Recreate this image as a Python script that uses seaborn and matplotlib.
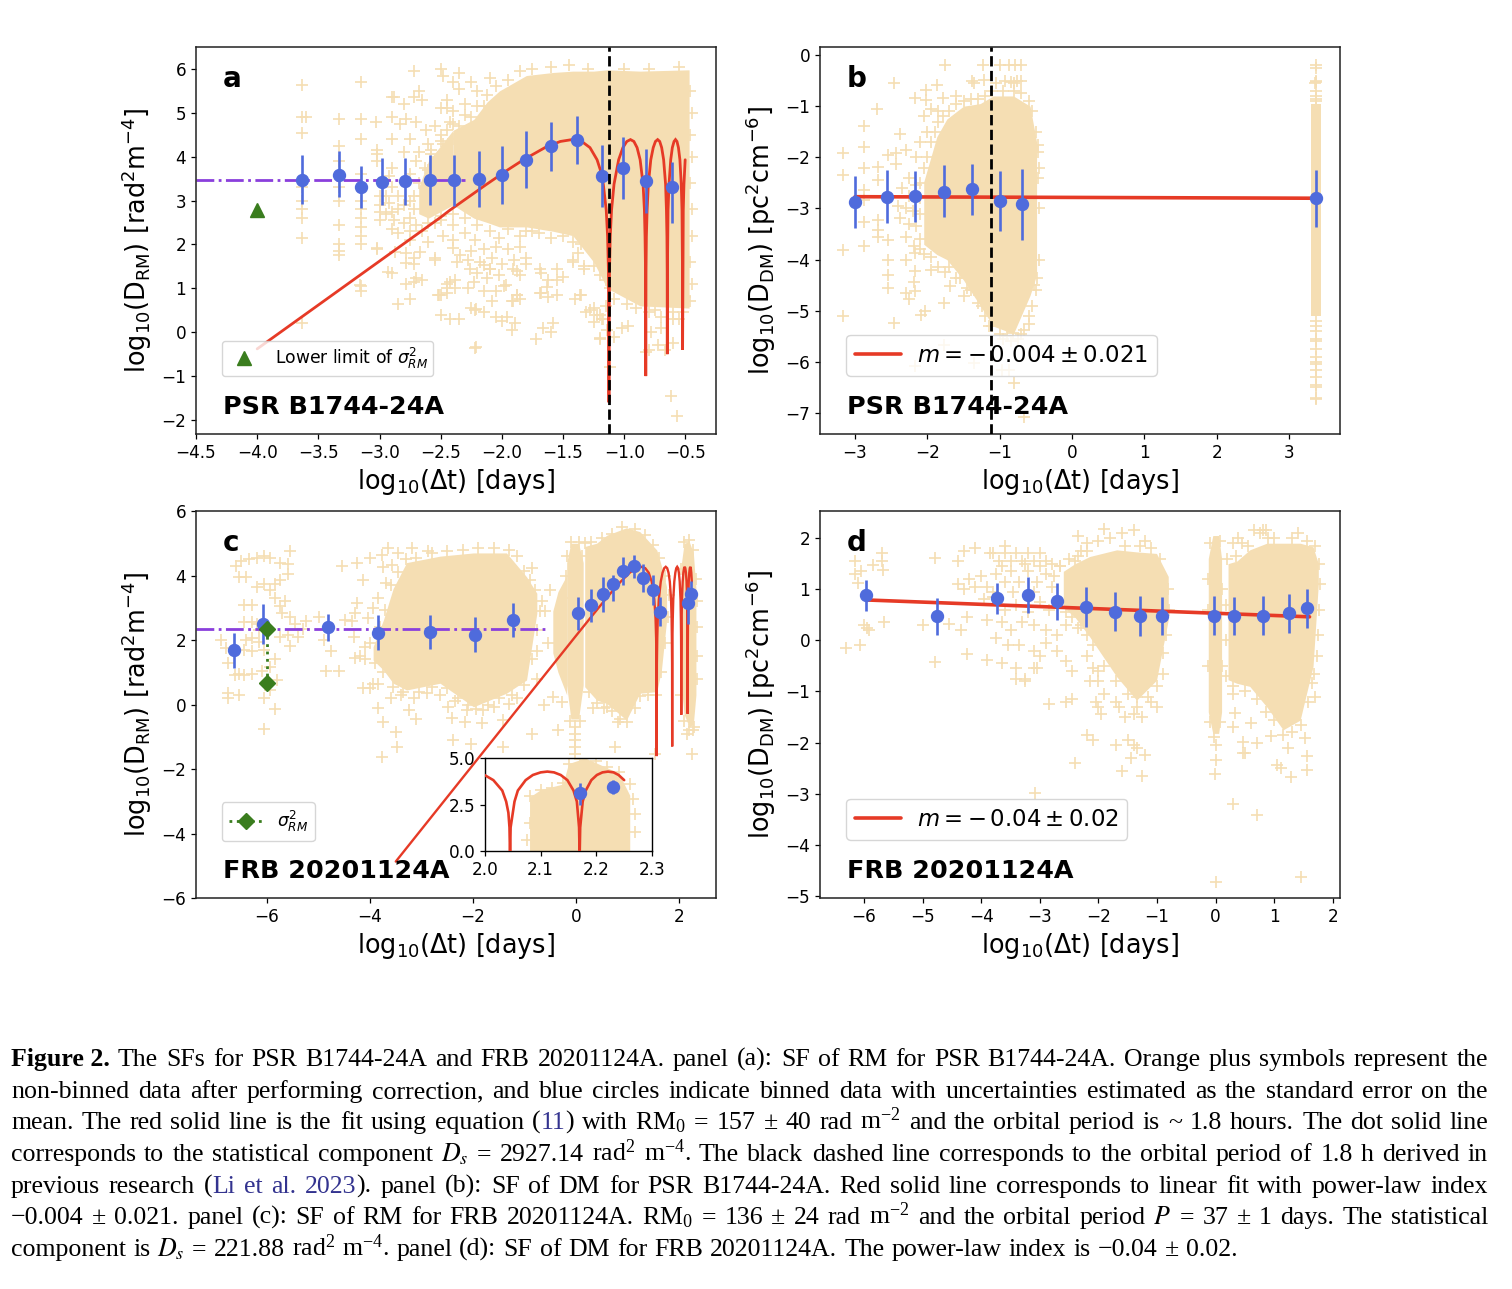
"""
Structure functions of RM and DM for PSR B1744-24A and FRB 20201124A,
with the paper caption underneath. Values are read off the published figure.
"""

import matplotlib
matplotlib.use('Agg')
import matplotlib.pyplot as plt
import numpy as np
import pandas as pd
import seaborn as sns

# panel a: binned points (x, y, upper end, lower end of the bar)
bin_a_x = [-3.63, -3.33, -3.15, -2.98, -2.79, -2.59, -2.39, -2.19, -2.0, -1.8, -1.6, -1.39, -1.18, -1.01, -0.82, -0.61]
bin_a_y = [3.47, 3.59, 3.30, 3.43, 3.45, 3.47, 3.46, 3.50, 3.59, 3.93, 4.25, 4.39, 3.57, 3.74, 3.45, 3.30]
bin_a_hi = [4.03, 4.12, 3.79, 3.96, 3.98, 4.04, 4.03, 4.14, 4.25, 4.58, 4.80, 4.93, 4.27, 4.44, 4.17, 3.89]
bin_a_lo = [2.92, 3.07, 2.82, 2.90, 2.91, 2.91, 2.88, 2.86, 2.93, 3.29, 3.68, 3.84, 2.86, 3.03, 2.72, 2.48]

fit_a_x = [-4.0, -3.5, -3.0, -2.5, -2.426, -2.125, -1.949, -1.824, -1.648, -1.523, -1.426, -1.347, -1.28, -1.222, -1.196, -1.171, -1.147, -1.136, -1.129, -1.125,
           -1.1207, -1.1143, -1.1038, -1.0836, -1.0458, -1.011, -0.979, -0.949, -0.921, -0.895, -0.87, -0.846, -0.835, -0.83, -0.826, -0.824,
           -0.822, -0.819, -0.813, -0.803, -0.783, -0.763, -0.745, -0.727, -0.71, -0.694, -0.678, -0.662, -0.655, -0.651, -0.649, -0.648,
           -0.647, -0.642, -0.634, -0.62, -0.607, -0.593, -0.581, -0.569, -0.557, -0.545, -0.534, -0.528, -0.524, -0.523,
           -0.5175, -0.512, -0.502]
fit_a_y = [-0.38, 0.62, 1.62, 2.62, 2.779, 3.371, 3.705, 3.93, 4.207, 4.347, 4.39, 4.347, 4.207, 3.93, 3.705, 3.371, 2.779, 2.18, 1.385, -1.6,
           1.385, 2.18, 2.779, 3.371, 3.93, 4.207, 4.347, 4.39, 4.347, 4.207, 3.93, 3.371, 2.779, 2.18, 1.385, -1.0,
           1.385, 2.18, 2.779, 3.371, 3.93, 4.207, 4.347, 4.39, 4.347, 4.207, 3.93, 3.371, 2.779, 2.18, 1.385, -0.5,
           1.385, 2.779, 3.371, 3.93, 4.207, 4.347, 4.39, 4.347, 4.207, 3.93, 3.371, 2.779, 1.385, -0.4,
           2.779, 3.371, 3.93]

# solid parts of the cloud in panel a
dense_a_x = [-2.4, -2.23, -2.12, -2.02, -1.8, -1.58, -1.42, -1.25, -1.14, -0.87, -0.47]
dense_a_hi = [4.6, 4.85, 5.25, 5.5, 5.85, 5.92, 5.95, 5.95, 5.98, 5.95, 5.98]
dense_a_lo = [2.9, 2.6, 2.5, 2.4, 2.4, 2.3, 2.2, 1.6, 1.0, 0.6, 0.55]
dense_a2_x = [-2.68, -2.6, -2.4]
dense_a2_hi = [3.3, 3.9, 4.6]
dense_a2_lo = [2.7, 2.6, 2.9]

cloud_a = [
    (-3.63, 5.63), (-3.63, 4.9), (-3.6, 4.9), (-3.63, 4.55), (-3.63, 3.3), (-3.63, 3.0), (-3.63, 2.8), (-3.63, 2.6), (-3.63, 2.15), (-3.63, 0.2),
    (-3.33, 4.85), (-3.33, 4.25), (-3.33, 3.9), (-3.33, 3.3), (-3.33, 3.0), (-3.33, 2.45), (-3.33, 2.0), (-3.33, 1.85), (-3.33, 1.75),
    (-3.15, 5.7), (-3.15, 4.85), (-3.15, 4.4), (-3.15, 3.6), (-3.15, 3.0), (-3.15, 2.8), (-3.15, 2.6), (-3.15, 2.4), (-3.15, 2.2), (-3.15, 2.0), (-3.15, 1.05), (-3.15, 0.95),
    (-3.03, 4.8), (-3.02, 4.15), (-3.02, 4.05), (-3.02, 3.9), (-3.0, 3.1), (-3.0, 2.9), (-3.0, 2.75), (-3.0, 2.55), (-3.02, 1.9),
    (-2.9, 5.35), (-2.88, 5.35), (-2.9, 4.9), (-2.83, 4.75), (-2.9, 3.75), (-2.92, 3.55), (-2.9, 3.3), (-2.92, 2.95), (-2.9, 2.75), (-2.88, 2.55), (-2.9, 2.35), (-2.9, 1.35),
    (-2.72, 5.95), (-2.8, 5.2), (-2.72, 5.35), (-2.68, 5.5), (-2.65, 5.3), (-2.78, 4.85), (-2.7, 4.8), (-2.75, 4.4), (-2.6, 4.3), (-2.58, 4.05),
    (-2.7, 3.9), (-2.6, 3.7), (-2.75, 3.6), (-2.55, 3.2), (-2.65, 3.1), (-2.8, 2.9), (-2.6, 2.9), (-2.75, 2.6), (-2.55, 2.5), (-2.65, 2.3),
    (-2.75, 2.1), (-2.6, 2.05), (-2.78, 1.8), (-2.72, 1.7), (-2.72, 1.55), (-2.55, 1.65), (-2.65, 1.2), (-2.78, 1.1), (-2.5, 0.85), (-2.45, 1.1), (-2.45, 0.9),
    (-2.52, 0.85), (-2.85, 0.65), (-2.75, 0.75), (-2.5, 6.0), (-2.48, 5.85), (-2.35, 5.9), (-2.4, 5.7), (-2.35, 5.55), (-2.45, 5.3), (-2.25, 5.7), (-2.1, 5.8),
    (-2.3, 5.2), (-2.2, 5.5), (-2.5, 5.1), (-2.45, 5.1), (-2.4, 5.05), (-2.42, 4.8), (-2.35, 4.7), (-2.25, 4.9), (-2.15, 5.15), (-2.5, 4.5), (-2.4, 4.4), (-2.3, 4.55),
    (-2.52, 4.0), (-2.48, 4.3), (-2.5, 3.7), (-2.48, 2.2), (-2.4, 2.1), (-2.3, 2.25), (-2.22, 2.1), (-2.5, 2.55), (-2.4, 2.45),
    (-2.1, 2.3), (-2.02, 2.15), (-1.95, 2.35), (-1.85, 2.2), (-1.75, 2.3), (-1.5, 2.2), (-1.42, 2.05), (-1.35, 2.0),
    (-2.25, 1.85), (-2.15, 1.9), (-2.05, 1.95), (-1.95, 1.9), (-1.85, 1.95), (-2.28, 1.65), (-2.18, 1.6), (-2.08, 1.7), (-2.0, 1.55), (-1.9, 1.65), (-1.8, 1.55), (-2.2, 1.35), (-2.1, 1.45),
    (-2.02, 1.3), (-1.88, 1.4), (-1.85, 1.3), (-1.68, 1.35), (-1.62, 1.2), (-1.55, 1.2), (-1.5, 1.25), (-1.42, 1.65), (-1.38, 1.8), (-1.33, 1.5), (-1.3, 2.0),
    (-2.38, 1.2), (-2.38, 1.0), (-2.28, 1.0), (-2.15, 0.95), (-2.05, 0.95), (-1.98, 1.05), (-1.92, 0.7), (-1.88, 0.85), (-1.85, 0.75), (-1.68, 0.9), (-1.62, 0.8), (-1.55, 0.85),
    (-2.5, 0.4), (-2.35, 0.3), (-2.25, 0.55), (-2.22, 0.5), (-2.05, 0.35), (-2.0, 0.25), (-1.92, 0.05), (-1.72, -0.15), (-1.6, 0.0), (-2.22, -0.35),
    (-1.4, 0.75), (-1.35, 0.85), (-1.28, 0.5), (-1.25, 0.55), (-1.2, 0.4), (-1.18, 0.3), (-1.15, 0.6), (-1.2, -0.15), (-1.08, -0.1), (-1.02, 0.1), (-0.97, 0.15), (-0.9, 0.55),
    (-0.98, 0.65), (-0.86, 0.8), (-0.75, 0.5), (-0.72, -0.3), (-0.67, -0.4), (-0.6, 0.3), (-0.55, 0.3), (-0.52, 0.45), (-0.5, 0.8), (-0.8, -0.4), (-0.6, -0.25), (-0.62, -1.45), (-0.57, -1.9),
    (-1.12, -0.8), (-1.14, 0.05), (-0.82, -0.45), (-0.78, 0.0), (-0.7, 0.1),
    (-2.40, 1.91), (-2.34, 1.76), (-2.37, 1.61), (-2.26, 1.45), (-2.15, 1.53), (-2.10, 1.45), (-2.12, 1.23), (-2.23, 1.15), (-2.42, 1.15), (-2.45, 1.0), (-2.51, 0.85),
    (-1.88, 0.85), (-1.91, 0.70), (-1.69, 0.89), (-1.63, 1.04), (-1.97, 1.07), (-1.91, 1.45), (-1.80, 1.68), (-1.69, 1.45), (-1.55, 1.45), (-1.42, 1.61), (-1.33, 1.45),
    (-1.36, 0.85), (-1.31, 0.47), (-1.22, 0.39), (-1.17, 0.31), (-1.25, 0.24), (-1.20, -0.14), (-1.58, 0.2), (-1.66, 0.09), (-1.96, 0.35), (-1.89, 0.2), (-2.21, 0.54), (-2.15, 0.47), (-2.08, 0.7),
    (-2.42, 0.31), (-2.21, -0.33), (-2.70, 1.23), (-2.72, 1.15), (-3.16, 1.07), (-2.93, 1.38), (-2.78, 1.57), (-2.67, 1.83), (-2.55, 1.68), (-3.02, 1.91), (-2.87, 1.83),
    (-2.95, 3.1), (-2.85, 3.1), (-2.75, 3.0), (-2.95, 2.7), (-2.85, 2.8), (-2.72, 2.8), (-2.8, 2.5), (-2.7, 2.45), (-2.85, 2.25), (-2.75, 2.3), (-2.68, 4.1), (-2.62, 4.6), (-2.55, 4.7), (-2.8, 4.1), (-2.9, 4.4),
    # rim of the solid part
    (-2.4, 4.75), (-2.3, 4.95), (-2.2, 5.15), (-2.12, 5.4), (-2.05, 5.6), (-1.95, 5.75), (-1.85, 5.95), (-1.75, 6.0), (-1.6, 6.05), (-1.45, 6.1), (-1.3, 6.0), (-1.0, 6.0), (-0.8, 6.0), (-0.55, 6.05),
    (-0.46, 5.5), (-0.45, 5.0), (-0.46, 4.5), (-0.45, 4.0), (-0.46, 3.4), (-0.45, 2.8), (-0.45, 2.2), (-0.46, 1.6), (-0.45, 1.1), (-0.46, 0.7),
    (-0.6, 0.45), (-0.7, 0.35), (-0.8, 0.45), (-1.08, 0.75), (-1.12, 1.0), (-1.15, 1.2), (-1.2, 1.3), (-1.25, 1.5), (-1.6, 2.15), (-1.7, 2.25), (-1.8, 2.3), (-2.2, 2.45), (-2.3, 2.6), (-2.4, 2.7), (-2.5, 2.65), (-2.6, 2.5),
    (-2.72, 3.1), (-2.68, 3.4), (-2.63, 3.75), (-2.58, 4.15), (-2.5, 4.35), (-2.45, 4.6),
]

rm_a_x = [-4.5, -2.3]
rm_a_y = [3.47, 3.47]
limit_a_x = [-4.0]
limit_a_y = [2.78]
period_a = -1.125

# panel b
bin_b_x = [-3.0, -2.56, -2.17, -1.77, -1.38, -0.99, -0.69, 3.37]
bin_b_y = [-2.88, -2.77, -2.76, -2.67, -2.62, -2.86, -2.92, -2.80]
bin_b_hi = [-2.37, -2.25, -2.26, -2.16, -2.13, -2.27, -2.23, -2.24]
bin_b_lo = [-3.39, -3.29, -3.27, -3.16, -3.12, -3.45, -3.62, -3.36]
fit_b_x = [-3.0, 3.37]
fit_b_y = [-2.77, -2.80]

dense_b_x = [-2.05, -1.87, -1.73, -1.5, -1.27, -1.09, -0.81, -0.58, -0.49]
dense_b_hi = [-2.48, -1.6, -1.25, -1.0, -0.95, -0.8, -0.8, -1.0, -1.7]
dense_b_lo = [-3.7, -3.9, -4.0, -4.4, -4.9, -5.3, -5.45, -4.7, -4.3]
column_b_x = [3.3, 3.44]
column_b_hi = [-0.95, -0.95]
column_b_lo = [-5.1, -5.1]

cloud_b = [
    (-2.87, -1.38), (-2.87, -1.79), (-2.87, -2.21), (-3.16, -1.92), (-3.16, -2.34), (-3.16, -3.81), (-3.16, -5.11), (-2.87, -2.63), (-2.87, -2.83), (-2.87, -3.27), (-2.87, -3.74),
    (-2.69, -1.06), (-2.46, -0.55), (-2.38, -1.54), (-2.68, -2.18), (-2.68, -2.44), (-2.68, -3.22), (-2.68, -3.42), (-2.68, -3.55), (-2.55, -1.95), (-2.55, -3.61), (-2.55, -4.0), (-2.55, -4.3), (-2.55, -4.56),
    (-2.46, -5.24), (-2.44, -1.92), (-2.3, -1.85), (-2.3, -4.0), (-2.3, -4.65), (-2.26, -4.78), (-2.44, -2.14), (-2.38, -3.19), (-2.3, -3.55), (-2.19, -3.74), (-2.17, -3.87), (-2.17, -4.23), (-2.19, -4.43), (-2.17, -4.62),
    (-2.09, -5.08), (-2.03, -5.01), (-2.17, -0.84), (-2.02, -0.68), (-1.87, -0.58), (-1.75, -0.19), (-2.02, -0.87), (-1.79, -0.84), (-1.6, -0.81), (-1.38, -0.51), (-1.23, -0.19), (-1.21, -0.48), (-1.0, -0.19), (-0.87, -0.19),
    (-0.79, -0.19), (-0.71, -0.19), (-0.93, -0.5), (-0.85, -0.52), (-0.8, -0.55), (-0.76, -0.5), (-0.71, -0.5), (-1.35, -0.55), (-1.05, -0.55),
    (-1.77, -4.85), (-1.49, -4.72), (-1.68, -4.52), (-1.77, -5.67), (-1.36, -6.02), (-2.17, -6.09), (-0.8, -6.41), (-0.66, -7.07), (-0.66, -5.37), (-0.87, -6.15), (-0.97, -6.15), (-1.15, -5.3), (-0.87, -5.24), (-0.82, -5.44),
    (-2.05, -1.2), (-1.95, -1.05), (-1.85, -1.1), (-2.0, -1.5), (-2.1, -1.7), (-2.15, -2.0), (-2.25, -2.4), (-2.15, -2.55), (-2.35, -2.6), (-2.25, -2.75), (-2.1, -2.8), (-2.4, -2.95), (-2.3, -3.0), (-2.2, -3.05), (-2.1, -3.1),
    (-2.25, -3.3), (-2.15, -3.35), (-2.1, -3.6), (-1.95, -4.2), (-1.85, -4.15), (-1.75, -4.25), (-1.6, -4.35), (-1.45, -4.55), (-1.35, -4.6), (-1.25, -4.9),
    (-0.95, -5.55), (-0.85, -5.6), (-0.75, -5.55), (-0.6, -5.1), (-0.55, -4.9), (-0.52, -4.5), (-0.48, -4.35), (-0.46, -4.0), (-0.46, -3.0),
    (-0.47, -2.4), (-0.46, -2.2), (-0.47, -1.9), (-0.47, -1.75),
    (3.37, -0.2), (3.37, -0.25), (3.37, -0.5), (3.37, -0.52), (3.36, -0.55), (3.38, -0.7), (3.37, -0.8), (3.37, -0.85), (3.37, -0.9),
    (3.37, -5.2), (3.37, -5.3), (3.37, -5.4), (3.37, -5.55), (3.37, -5.6), (3.37, -5.75), (3.37, -5.9), (3.37, -6.0), (3.37, -6.05), (3.37, -6.15), (3.37, -6.3), (3.37, -6.45), (3.37, -6.5), (3.37, -6.7), (3.37, -6.72),
    # rim of the solid part
    (-2.1, -2.5), (-2.05, -2.2), (-2.0, -2.0), (-1.95, -1.7), (-1.9, -1.5), (-1.85, -1.3), (-1.78, -1.2), (-1.7, -1.1), (-1.6, -0.95), (-1.5, -0.9), (-1.4, -0.85), (-1.3, -0.85), (-1.2, -0.8), (-1.1, -0.7), (-0.95, -0.7),
    (-0.8, -0.7), (-0.7, -0.75), (-0.6, -0.9), (-0.55, -1.1), (-0.5, -1.5), (-2.1, -3.8), (-2.05, -3.9), (-1.95, -3.95), (-1.7, -4.15), (-1.55, -4.35), (-1.4, -4.6), (-1.3, -4.85), (-1.2, -5.1), (-1.1, -5.3), (-1.0, -5.45),
    (-0.9, -5.5), (-0.7, -5.45), (-0.6, -5.25), (-0.5, -4.6),
]
period_b = -1.125

# panel c
bin_c_x = [-6.64, -6.08, -4.82, -3.84, -2.83, -1.96, -1.23, 0.04, 0.30, 0.52, 0.71, 0.92, 1.12, 1.31, 1.50, 1.64, 2.17, 2.23]
bin_c_y = [1.68, 2.50, 2.39, 2.22, 2.26, 2.17, 2.61, 2.83, 3.09, 3.42, 3.73, 4.14, 4.29, 3.93, 3.54, 2.88, 3.14, 3.44]
bin_c_hi = [2.21, 3.11, 2.82, 2.76, 2.79, 2.70, 3.14, 3.33, 3.58, 3.94, 4.02, 4.57, 4.65, 4.35, 4.02, 3.32, 3.63, 3.83]
bin_c_lo = [1.14, 1.88, 1.98, 1.69, 1.73, 1.64, 2.10, 2.31, 2.57, 2.88, 3.21, 3.69, 3.91, 3.50, 3.07, 2.44, 2.50, 3.05]

fit_c_x = [-3.5, -3.0, -2.0, -1.0, 0.0, 0.267, 0.568, 0.744, 0.869, 1.045, 1.17, 1.267, 1.346, 1.413, 1.471, 1.497, 1.522, 1.546, 1.557, 1.564, 1.568,
           1.572, 1.579, 1.589, 1.609, 1.647, 1.682, 1.714, 1.744, 1.772, 1.798, 1.823, 1.847, 1.858, 1.863, 1.867, 1.869,
           1.871, 1.874, 1.88, 1.89, 1.91, 1.93, 1.948, 1.966, 1.983, 1.999, 2.015, 2.031, 2.038, 2.042, 2.044, 2.045,
           2.046, 2.053, 2.059, 2.073, 2.086, 2.1, 2.112, 2.124, 2.136, 2.148, 2.159, 2.165, 2.169, 2.17,
           2.171, 2.1755, 2.181, 2.191, 2.201, 2.211, 2.221, 2.231, 2.24, 2.25]
fit_c_y = [-4.87, -3.87, -1.87, 0.13, 2.13, 2.659, 3.251, 3.585, 3.81, 4.087, 4.227, 4.27, 4.227, 4.087, 3.81, 3.585, 3.251, 2.659, 2.06, 1.265, -1.6,
           1.265, 2.06, 2.659, 3.251, 3.81, 4.087, 4.227, 4.27, 4.227, 4.087, 3.81, 3.251, 2.659, 2.06, 1.265, -1.3,
           1.265, 2.06, 2.659, 3.251, 3.81, 4.087, 4.227, 4.27, 4.227, 4.087, 3.81, 3.251, 2.659, 2.06, 1.265, -0.32,
           1.265, 2.659, 3.251, 3.81, 4.087, 4.227, 4.27, 4.227, 4.087, 3.81, 3.251, 2.659, 1.265, -0.29,
           1.265, 2.659, 3.251, 3.81, 4.087, 4.227, 4.27, 4.227, 4.087, 3.81]

dense_c1_x = [-3.94, -3.74, -3.55, -3.29, -2.64, -1.99, -1.35, -0.96, -0.76]
dense_c1_hi = [1.79, 2.62, 3.6, 4.4, 4.6, 4.7, 4.7, 3.96, 3.45]
dense_c1_lo = [1.38, 1.07, 0.66, 0.45, 0.66, -0.07, 0.35, 0.76, 2.83]
dense_c2_x = [-0.18, -0.1, 0.05, 0.14]
dense_c2_hi = [4.4, 5.0, 5.0, 4.4]
dense_c2_lo = [0.6, -0.45, -0.45, 0.6]
dense_c3_x = [0.17, 0.4, 0.6, 0.98, 1.24, 1.57, 1.66, 1.76]
dense_c3_hi = [4.9, 5.0, 5.25, 5.48, 5.36, 4.79, 4.3, 3.65]
dense_c3_lo = [0.55, 0.14, 0.03, -0.48, 0.35, 0.4, 1.07, 2.6]
dense_c4_x = [2.05, 2.1, 2.2, 2.28, 2.33]
dense_c4_hi = [4.4, 5.0, 5.05, 4.7, 3.6]
dense_c4_lo = [0.5, -0.3, -0.7, -0.6, 0.3]
dense_c5_x = [-0.45, -0.35, -0.18]
dense_c5_hi = [2.9, 3.5, 4.0]
dense_c5_lo = [1.6, 1.0, 0.3]

cloud_c = [
    (-6.9, 2.0), (-6.8, 1.75), (-6.75, 1.3), (-6.62, 0.9), (-6.55, 0.95), (-6.75, 0.35), (-6.75, 0.2), (-6.55, 0.3), (-6.45, 0.9), (-6.3, 0.95),
    (-6.6, 4.3), (-6.5, 4.45), (-6.35, 4.5), (-6.2, 4.55), (-6.05, 4.6), (-5.95, 4.55), (-5.75, 4.4), (-5.6, 4.35), (-5.55, 4.75), (-5.6, 4.05), (-5.75, 3.85), (-5.85, 3.75),
    (-6.55, 3.95), (-6.4, 3.95), (-6.2, 3.65), (-6.05, 3.75), (-5.95, 3.55), (-6.45, 3.1), (-6.3, 3.1), (-6.2, 2.5), (-6.45, 2.55), (-6.3, 2.55), (-6.15, 2.3), (-6.4, 2.0), (-6.3, 2.05), (-6.15, 1.95), (-6.3, 1.65),
    (-6.45, 1.7), (-6.05, 1.7), (-5.85, 1.4), (-5.95, 1.15), (-6.1, 1.05), (-5.85, 3.3), (-5.75, 3.05), (-5.65, 3.2), (-5.7, 2.85), (-5.55, 2.7), (-5.45, 2.5), (-5.3, 2.35), (-5.25, 2.6), (-5.4, 2.1), (-5.55, 1.8), (-5.75, 2.1), (-5.6, 2.15),
    (-5.8, 0.75), (-5.95, 0.45), (-6.05, 0.2), (-6.05, -0.75), (-5.85, -0.15), (-5.0, 2.7), (-4.9, 2.0), (-4.75, 1.65), (-4.85, 1.05), (-4.6, 1.05), (-4.55, 4.3), (-4.35, 2.6), (-4.2, 1.5), (-4.1, 1.4), (-4.0, 0.5), (-3.85, 0.65),
    (-4.26, 4.38), (-4.0, 4.53), (-3.77, 4.63), (-3.65, 4.84), (-3.45, 4.69), (-3.19, 4.84), (-2.87, 4.75), (-4.13, 3.86), (-3.68, 3.76), (-3.74, 4.27), (-3.58, 4.32), (-4.26, 3.14), (-4.29, 2.83), (-4.49, 2.62), (-4.03, 2.67),
    (-3.71, 2.93), (-4.32, 2.1), (-4.1, 1.79), (-4.29, 1.43), (-0.86, 4.22), (-3.95, 3.0), (-3.85, 3.3), (-3.8, 2.4), (-4.13, 0.5), (-3.94, 0.65), (-3.84, -0.12), (-3.75, -0.53), (-3.25, -0.17), (-3.11, -0.46), (-3.5, -0.84), (-3.47, -1.31), (-3.77, -1.62),
    (-2.48, -0.07), (-2.41, -0.43), (-2.16, -0.53), (-2.12, -0.17), (-1.83, -0.58), (-1.8, -0.17), (-1.6, -0.07), (-1.3, 0.03), (-1.41, -0.48), (-2.38, -1.1), (-2.03, -1.21), (-1.41, -1.31), (-0.86, -0.9), (-0.34, -0.79), (-0.63, -0.02),
    (-0.44, 0.24), (-0.28, 0.09), (0.76, -1.31), (0.82, -0.53), (0.6, -0.07), (0.34, -0.12), (1.53, -1.52), (2.25, -1.52), (2.15, -0.9), (2.28, -0.79), (-0.02, -0.69), (-0.02, -0.9), (-0.02, -1.1), (-0.02, -1.31), (-0.02, -1.52),
    (-3.6, 0.2), (-3.4, 0.3), (-3.15, 0.2), (-2.9, 0.35), (-2.65, 0.3), (-2.35, 0.1), (-1.15, 0.2), (-0.75, 0.8), (-0.55, 1.9), (-0.6, 2.9), (-0.5, 3.55), (-0.65, 3.2), (-0.75, 1.65),
    # rim of the solid parts
    (-3.6, 3.7), (-3.45, 4.1), (-3.3, 4.5), (-3.1, 4.55), (-2.8, 4.7), (-2.5, 4.75), (-2.2, 4.8), (-1.9, 4.85), (-1.6, 4.85), (-1.3, 4.8), (-1.15, 4.6), (-1.0, 4.15), (-0.9, 3.85), (-0.8, 3.55),
    (-4.0, 1.9), (-3.9, 1.3), (-3.75, 1.0), (-3.55, 0.55), (-3.35, 0.4), (-3.05, 0.4), (-2.8, 0.55), (-2.5, 0.5), (-2.3, 0.2), (-2.1, 0.0), (-1.95, -0.15), (-1.7, 0.0), (-1.5, 0.2), (-1.25, 0.3), (-1.0, 0.6), (-0.85, 1.4), (-0.75, 2.3), (-0.7, 2.9),
    (0.25, 0.4), (0.4, 0.05), (0.55, -0.1), (0.7, -0.2), (0.85, -0.45), (1.0, -0.55), (1.15, -0.1), (1.25, 0.25), (1.4, 0.3), (1.55, 0.3), (1.65, 1.0), (1.72, 1.9), (1.78, 2.7), (1.8, 3.4), (1.72, 4.0), (1.62, 4.55), (1.5, 4.95),
    (1.35, 5.25), (1.15, 5.45), (0.9, 5.5), (0.7, 5.3), (0.5, 5.15), (0.3, 5.05), (0.18, 5.0),
    (-0.18, 4.6), (-0.1, 5.05), (0.05, 5.05), (0.12, 4.6), (-0.2, 4.0), (-0.2, 3.3), (-0.12, -0.5), (0.08, -0.5),
    (2.04, 4.2), (2.1, 5.05), (2.2, 5.1), (2.28, 4.8), (2.33, 3.9), (2.36, 3.2), (2.36, 2.4), (2.36, 1.5), (2.35, 0.8), (2.3, -0.7), (2.2, -0.8), (2.1, -0.5), (2.04, 0.3),
]
rm_c_x = [-7.38, -0.55]
rm_c_y = [2.33, 2.33]
var_c_x = [-6.0, -6.0]
var_c_y = [2.33, 0.67]

# inset of panel c
inset_x = [2.08, 2.1, 2.14, 2.15, 2.18, 2.21, 2.24, 2.26]
inset_hi = [2.9, 3.3, 3.6, 4.7, 5.0, 4.6, 4.2, 3.0]
inset_lo = [0.0, 0.0, 0.0, 0.0, 0.0, 0.0, 0.0, 0.0]
cloud_inset = [(2.08, 2.95), (2.1, 3.3), (2.12, 3.4), (2.14, 3.65), (2.15, 4.7), (2.17, 4.95), (2.2, 4.85), (2.22, 4.5), (2.24, 4.25), (2.26, 3.6),
               (2.265, 2.8), (2.27, 2.0), (2.27, 1.0), (2.08, 1.5), (2.075, 0.6)]

# panel d
bin_d_x = [-5.96, -4.75, -3.73, -3.21, -2.70, -2.22, -1.72, -1.30, -0.92, -0.03, 0.31, 0.80, 1.25, 1.56]
bin_d_y = [0.88, 0.47, 0.83, 0.88, 0.76, 0.66, 0.56, 0.47, 0.47, 0.47, 0.47, 0.47, 0.53, 0.63]
bin_d_hi = [1.18, 0.83, 1.13, 1.23, 1.12, 1.05, 0.95, 0.86, 0.85, 0.86, 0.85, 0.86, 0.90, 1.0]
bin_d_lo = [0.58, 0.11, 0.51, 0.54, 0.40, 0.26, 0.19, 0.09, 0.10, 0.10, 0.10, 0.10, 0.14, 0.25]
fit_d_x = [-5.96, 1.6]
fit_d_y = [0.79, 0.46]

dense_d1_x = [-2.6, -2.4, -2.15, -1.69, -1.35, -1.01, -0.81]
dense_d1_hi = [1.35, 1.5, 1.64, 1.77, 1.73, 1.7, 1.25]
dense_d1_lo = [0.65, 0.45, 0.07, -0.71, -1.17, -0.78, 0.4]
dense_d2_x = [-0.127, -0.05, 0.05, 0.1]
dense_d2_hi = [1.6, 2.05, 2.05, 1.6]
dense_d2_lo = [-1.4, -1.82, -1.82, -1.4]
dense_d3_x = [0.21, 0.36, 0.58, 0.87, 1.15, 1.44, 1.66, 1.75]
dense_d3_hi = [1.5, 1.55, 1.77, 1.9, 1.9, 1.9, 1.83, 1.5]
dense_d3_lo = [-0.77, -0.84, -0.9, -1.3, -1.75, -1.56, -0.51, 1.1]

cloud_d = [
    (-6.3, -0.15), (-6.06, -0.1), (-6.15, 1.55), (-6.15, 1.3), (-6.05, 1.35), (-6.1, 1.13), (-5.85, 1.48), (-5.7, 1.7), (-5.7, 1.55), (-5.68, 1.38), (-6.0, 0.3), (-5.95, 0.25), (-5.92, 0.2), (-5.65, 0.35),
    (-5.0, 0.3), (-4.78, 1.62), (-4.78, -0.42), (-4.55, 0.32), (-4.4, 1.55), (-4.3, 1.75), (-4.35, 0.2), (-4.25, -0.27), (-4.25, 0.45), (-4.1, 1.8), (-3.9, -0.38), (-3.9, 0.4),
    (-3.65, -0.45), (-4.4, 1.1), (-4.3, 1.0), (-4.2, 1.2), (-4.1, 1.05), (-4.0, 1.25), (-3.9, 1.05), (-3.85, 1.7), (-3.6, 1.85), (-2.8, 1.5), (-2.65, 1.45), (-2.5, 1.6), (-2.4, 1.55),
    (-2.3, 1.75), (-2.2, 1.9), (-2.35, 2.05), (-2.0, 1.95), (-1.8, 2.0), (-1.6, 2.1), (-1.4, 2.15), (-1.2, 1.95), (-1.9, 2.18),
    (-3.8, 1.7), (-3.7, 1.55), (-3.6, 1.7), (-3.5, 1.55), (-3.4, 1.7), (-3.3, 1.55), (-3.2, 1.7), (-3.1, 1.55), (-3.0, 1.7), (-2.9, 1.55), (-3.75, 1.3), (-3.6, 1.15), (-3.5, 1.35), (-3.35, 1.15), (-3.2, 1.35), (-3.05, 1.15), (-2.9, 1.3),
    (-3.8, 0.95), (-3.45, 0.95), (-3.1, 0.95), (-2.8, 1.05), (-3.65, 1.45), (-3.25, 1.5), (-3.0, 1.45), (-2.75, 1.25),
    (-3.95, 0.8), (-3.8, 0.85), (-3.6, 0.6), (-3.4, 0.7), (-3.2, 0.55), (-3.0, 0.75), (-2.85, 0.6), (-3.65, 0.35), (-3.5, 0.2), (-3.3, 0.35), (-3.1, 0.3), (-2.9, 0.2), (-3.75, 0.05), (-3.55, -0.1), (-3.35, -0.1), (-3.1, -0.2),
    (-2.9, -0.05), (-2.7, 0.1), (-2.55, 0.3), (-2.45, 0.45), (-2.35, 0.25), (-2.2, 0.1), (-2.7, -0.2), (-2.55, -0.4), (-2.45, -0.6), (-2.2, -0.3), (-2.1, -0.55),
    (-2.0, -0.6), (-3.4, -0.55), (-3.25, -0.8), (-3.4, -0.75), (-3.1, -0.55), (-3.0, -0.3), (-3.25, -0.75), (-3.05, -0.55), (-2.15, -0.8), (-2.0, -0.8), (-1.9, -1.05), (-2.05, -1.2), (-2.0, -1.3), (-1.95, -1.45), (-1.7, -1.2),
    (-1.65, -1.3), (-1.55, -1.5), (-1.4, -1.45), (-1.25, -1.5), (-1.1, -1.2), (-1.0, -1.3), (-1.35, -1.1), (-0.9, -0.65),
    (-2.85, -1.25), (-2.55, -1.2), (-2.45, -1.15), (-2.2, -1.85), (-2.1, -1.95), (-1.7, -2.05), (-1.5, -1.95), (-1.4, -2.05), (-1.35, -2.1), (-1.2, -2.25), (-1.45, -2.3), (-1.6, -2.55), (-1.25, -2.65), (-2.4, -2.4), (-3.08, -2.98),
    (0.0, -2.05), (0.0, -2.35), (-0.02, -2.62), (0.3, -3.2), (0.7, -3.42), (0.0, -4.72), (1.45, -4.62), (0.3, -1.04), (0.33, -1.43), (0.3, -1.69), (0.61, -1.62), (0.47, -1.98), (0.47, -2.2), (0.7, -2.01), (0.95, -1.88),
    (1.24, -2.11), (1.52, -1.92), (1.55, -2.27), (1.56, -2.53), (1.04, -2.44), (1.12, -2.5), (1.29, -2.67), (1.58, -0.65), (1.64, -0.84), (1.69, -1.1),
    (0.65, 2.15), (0.75, 2.1), (0.8, 2.15), (0.85, 2.15), (0.9, 2.0), (1.3, 2.0), (1.4, 2.1), (0.3, 1.9), (0.45, 1.9), (0.38, 2.0), (0.5, -2.2),
    # rim of the solid parts
    (-2.65, 1.45), (-2.35, 1.65), (-2.2, 1.75), (-1.55, 1.85), (-1.3, 1.85), (-1.1, 1.8), (-0.95, 1.6), (-0.82, 1.0), (-0.8, 0.6), (-0.85, 0.1), (-0.9, -0.25), (-1.0, -0.9), (-1.15, -1.1), (-1.35, -1.3), (-1.5, -1.05),
    (-1.7, -0.8), (-1.9, -0.5), (-2.1, -0.1), (-2.3, 0.3), (-2.55, 0.55),
    (0.2, 1.6), (0.35, 1.65), (0.55, 1.85), (1.0, 2.0), (1.55, 1.95), (1.7, 1.85), (1.77, 1.5), (1.78, 1.1), (1.76, 0.6), (1.75, 0.1), (1.72, -0.3), (1.68, -0.65), (1.58, -1.2), (1.45, -1.65), (1.3, -1.8), (1.15, -1.85),
    (1.0, -1.55), (0.85, -1.4), (0.7, -1.15), (0.5, -1.0), (0.3, -0.9), (0.18, -0.7), (0.18, 0.0), (0.18, 0.7),
    (-0.14, 1.2), (-0.14, 0.6), (0.11, 1.0), (-0.14, -0.5), (0.11, -0.5), (-0.1, 1.9), (0.08, 1.95), (-0.1, -1.6), (0.08, -1.6), (-0.03, -1.9),
]


def draw_fit(ax, xs, ys, lw=2.0, label=None):
    sns.lineplot(x=xs, y=ys, sort=False, estimator=None, color=RED, lw=lw, ax=ax, zorder=3,
                 solid_joinstyle='miter', label=label)


def draw_bins(ax, xs, ys, hi, lo):
    xs, ys, hi, lo = map(np.array, (xs, ys, hi, lo))
    ax.errorbar(xs, ys, yerr=[ys - lo, hi - ys], fmt='o', color=BLUE, ms=8.6,
                elinewidth=1.9, capsize=0, zorder=5)


def draw_cloud(ax, points, blocks):
    for x, hi, lo in blocks:
        ax.fill_between(x, lo, hi, color=WHEAT, lw=0, zorder=1)
    df = pd.DataFrame(points, columns=['x', 'y'])
    sns.scatterplot(data=df, x='x', y='y', marker='+', color=WHEAT, s=70, linewidth=1.2,
                    ax=ax, zorder=1, legend=False)


def finish_panel(ax, name, letter, xlabel, ylabel):
    ax.set_xlabel(xlabel, fontsize=18.4, labelpad=4)
    ax.set_ylabel(ylabel, fontsize=18.4, labelpad=5)
    ax.text(0.052, 0.917, letter, transform=ax.transAxes, fontsize=20, fontweight='bold',
            color='black', va='center', zorder=10)
    ax.text(0.052, 0.071, name, transform=ax.transAxes, fontsize=18.3, fontweight='bold',
            color='black', va='center', zorder=10)
    for s in ax.spines.values():
        s.set_linewidth(1.1)


def panel_axes(left, top, right, bottom):
    return fig.add_axes([left / W, 1 - bottom / H, (right - left) / W, (bottom - top) / H])


def caption_line(words, baseline, justify=True):
    renderer = fig.canvas.get_renderer()
    placed = []
    total = 0
    for word in words:
        segs = word if isinstance(word, list) else [(word, 'black', 'normal')]
        x = 0
        items = []
        for text, color, weight in segs:
            t = fig.text(0, 1 - baseline / H, text, family='Liberation Serif', fontsize=CAPTION_SIZE,
                         color=color, fontweight=weight, va='baseline', math_fontfamily='stix')
            w = t.get_window_extent(renderer).width
            items.append((t, x))
            x += w
        placed.append((items, x))
        total += x
    gap = (CAP_RIGHT - CAP_LEFT - total) / (len(words) - 1) if justify else CAPTION_SIZE * 100 / 72 * 0.275
    pos = CAP_LEFT
    for items, width in placed:
        for t, dx in items:
            t.set_x((pos + dx) / W)
        pos += width + gap


W, H = 1512, 1289
WHEAT = '#f5deb3'
RED = '#e63a26'
BLUE = '#4f6bdc'
PURPLE = '#8a3fdc'
GREEN = '#3a7d1e'
LINK = '#33338f'
CAPTION_SIZE = 18.6
CAP_LEFT, CAP_RIGHT = 11, 1488

sns.set_style('ticks')
plt.rcParams.update({'xtick.labelsize': 12.2, 'ytick.labelsize': 12.2,
                     'xtick.major.size': 3.5, 'ytick.major.size': 3.5,
                     'xtick.major.width': 0.9, 'ytick.major.width': 0.9,
                     'text.color': 'black', 'axes.labelcolor': 'black',
                     'xtick.color': 'black', 'ytick.color': 'black', 'axes.edgecolor': '#222222',
                     'font.family': ['DejaVu Sans'], 'mathtext.default': 'regular'})

fig = plt.figure(figsize=(W / 100, H / 100), dpi=100)
fig.patch.set_facecolor('white')

XLAB = r'log$_{10}$($\Delta$t) [days]'
YRM = r'log$_{10}$(D$_{\rm RM}$) [rad$^{2}$m$^{-4}$]'
YDM = r'log$_{10}$(D$_{\rm DM}$) [pc$^{2}$cm$^{-6}$]'

# --- panel a
ax = panel_axes(196, 47, 716, 434)
draw_cloud(ax, cloud_a, [(dense_a_x, dense_a_hi, dense_a_lo), (dense_a2_x, dense_a2_hi, dense_a2_lo)])
sns.lineplot(x=rm_a_x, y=rm_a_y, color=PURPLE, lw=2, ls='-.', ax=ax, zorder=2)
draw_fit(ax, fit_a_x, fit_a_y, 2.0)
draw_bins(ax, bin_a_x, bin_a_y, bin_a_hi, bin_a_lo)
ax.axvline(period_a, color='black', ls='--', lw=2, zorder=6)
ax.plot(limit_a_x, limit_a_y, '^', color=GREEN, ms=10, ls='none', zorder=6,
        label=r'Lower limit of $\mathit{\sigma}^2_{\mathit{RM}}$')
ax.legend(loc='lower left', bbox_to_anchor=(0.05, 0.15), fontsize=12.3, borderaxespad=0, borderpad=0.3)
ax.set_xlim(-4.5, -0.25)
ax.set_ylim(-2.32, 6.5)
ax.set_xticks([-4.5, -4, -3.5, -3, -2.5, -2, -1.5, -1, -0.5])
ax.set_yticks(range(-2, 7))
finish_panel(ax, 'PSR B1744-24A', 'a', XLAB, YRM)

# --- panel b
ax = panel_axes(820, 47, 1340, 434)
draw_cloud(ax, cloud_b, [(dense_b_x, dense_b_hi, dense_b_lo), (column_b_x, column_b_hi, column_b_lo)])
draw_fit(ax, fit_b_x, fit_b_y, 2.6, r'$\mathit{m} = -\,0.004 \pm 0.021$')
draw_bins(ax, bin_b_x, bin_b_y, bin_b_hi, bin_b_lo)
ax.axvline(period_b, color='black', ls='--', lw=2, zorder=6)
ax.legend(loc='lower left', bbox_to_anchor=(0.05, 0.15), fontsize=16.4,
          borderaxespad=0, borderpad=0.4, handletextpad=0.7)
ax.set_xlim(-3.484, 3.705)
ax.set_ylim(-7.41, 0.157)
ax.set_xticks([-3, -2, -1, 0, 1, 2, 3])
ax.set_yticks(range(-7, 1))
finish_panel(ax, 'PSR B1744-24A', 'b', XLAB, YDM)

# --- panel c
ax = panel_axes(196, 511, 716, 898)
draw_cloud(ax, cloud_c, [(dense_c1_x, dense_c1_hi, dense_c1_lo), (dense_c2_x, dense_c2_hi, dense_c2_lo),
                         (dense_c3_x, dense_c3_hi, dense_c3_lo), (dense_c4_x, dense_c4_hi, dense_c4_lo),
                         (dense_c5_x, dense_c5_hi, dense_c5_lo)])
sns.lineplot(x=rm_c_x, y=rm_c_y, color=PURPLE, lw=2, ls='-.', ax=ax, zorder=2)
draw_fit(ax, fit_c_x, fit_c_y, 1.7)
draw_bins(ax, bin_c_x, bin_c_y, bin_c_hi, bin_c_lo)
ax.plot(var_c_x, var_c_y, ':D', color=GREEN, ms=8, lw=2, zorder=6, label=r'$\mathit{\sigma}^2_{\mathit{RM}}$')
ax.legend(loc='lower left', bbox_to_anchor=(0.05, 0.147), fontsize=12.3, borderaxespad=0, borderpad=0.4)
ax.set_xlim(-7.38, 2.72)
ax.set_ylim(-6, 6)
ax.set_xticks([-6, -4, -2, 0, 2])
ax.set_yticks([-6, -4, -2, 0, 2, 4, 6])
finish_panel(ax, 'FRB 20201124A', 'c', XLAB, YRM)

ins = panel_axes(485, 758, 652, 851)
ins.set_zorder(8)
draw_cloud(ins, cloud_inset, [(inset_x, inset_hi, inset_lo)])
draw_fit(ins, fit_c_x, fit_c_y, 1.9)
draw_bins(ins, bin_c_x, bin_c_y, bin_c_hi, bin_c_lo)
ins.set_xlim(2.0, 2.3)
ins.set_ylim(0, 5)
ins.set_xticks([2.0, 2.1, 2.2, 2.3])
ins.set_yticks([0.0, 2.5, 5.0])
ins.set_xlabel('')
ins.set_ylabel('')
ins.tick_params(labelsize=12.2)
for s in ins.spines.values():
    s.set_linewidth(1.0)
    s.set_color('black')

# --- panel d
ax = panel_axes(820, 511, 1340, 898)
draw_cloud(ax, cloud_d, [(dense_d1_x, dense_d1_hi, dense_d1_lo), (dense_d2_x, dense_d2_hi, dense_d2_lo),
                         (dense_d3_x, dense_d3_hi, dense_d3_lo)])
draw_fit(ax, fit_d_x, fit_d_y, 2.6, r'$\mathit{m} = -\,0.04 \pm 0.02$')
draw_bins(ax, bin_d_x, bin_d_y, bin_d_hi, bin_d_lo)
ax.legend(loc='lower left', bbox_to_anchor=(0.05, 0.15), fontsize=16.4, borderaxespad=0, borderpad=0.4, handletextpad=0.7)
ax.set_xlim(-6.75, 2.12)
ax.set_ylim(-5.04, 2.53)
ax.set_xticks(range(-6, 3))
ax.set_yticks(range(-5, 3))
finish_panel(ax, 'FRB 20201124A', 'd', XLAB, YDM)

# --- caption
fig.canvas.draw()
caption_line([[('Figure 2.', 'black', 'bold')], 'The', 'SFs', 'for', 'PSR', 'B1744-24A', 'and', 'FRB', '20201124A.', 'panel', '(a):', 'SF', 'of', 'RM', 'for', 'PSR', 'B1744-24A.', 'Orange', 'plus', 'symbols', 'represent', 'the'], 1066)
caption_line(['non-binned', 'data', 'after', 'performing', 'correction,', 'and', 'blue', 'circles', 'indicate', 'binned', 'data', 'with', 'uncertainties', 'estimated', 'as', 'the', 'standard', 'error', 'on', 'the'], 1098)
caption_line(['mean.', 'The', 'red', 'solid', 'line', 'is', 'the', 'fit', 'using', 'equation',
              [('(', 'black', 'normal'), ('11', LINK, 'normal'), (')', 'black', 'normal')], 'with', r'RM$_0$', '=', '157', '±', '40', 'rad', r'm$^{-2}$', 'and', 'the', 'orbital', 'period', 'is', '~', '1.8', 'hours.', 'The', 'dot', 'solid', 'line'], 1129)
caption_line(['corresponds', 'to', 'the', 'statistical', 'component', r'$\mathit{D_s}$', '=', '2927.14', r'rad$^2$', r'm$^{-4}$.', 'The', 'black', 'dashed', 'line', 'corresponds', 'to', 'the', 'orbital', 'period', 'of', '1.8', 'h', 'derived', 'in'], 1161)
caption_line(['previous', 'research', [('(', 'black', 'normal'), ('Li', LINK, 'normal')], [('et', LINK, 'normal')], [('al.', LINK, 'normal')], [('2023', LINK, 'normal'), (').', 'black', 'normal')], 'panel', '(b):', 'SF', 'of', 'DM', 'for', 'PSR', 'B1744-24A.', 'Red', 'solid', 'line', 'corresponds', 'to', 'linear', 'fit', 'with', 'power-law', 'index'], 1193)
caption_line(['\u22120.004', '±', '0.021.', 'panel', '(c):', 'SF', 'of', 'RM', 'for', 'FRB', '20201124A.', r'RM$_0$', '=', '136', '±', '24', 'rad', r'm$^{-2}$', 'and', 'the', 'orbital', 'period', r'$\mathit{P}$', '=', '37', '±', '1', 'days.', 'The', 'statistical'], 1224)
caption_line(['component', 'is', r'$\mathit{D_s}$', '=', '221.88', r'rad$^2$', r'm$^{-4}$.', 'panel', '(d):', 'SF', 'of', 'DM', 'for', 'FRB', '20201124A.', 'The', 'power-law', 'index', 'is', '\u22120.04', '±', '0.02.'], 1256, justify=False)

fig.savefig('out.png', dpi=100)
